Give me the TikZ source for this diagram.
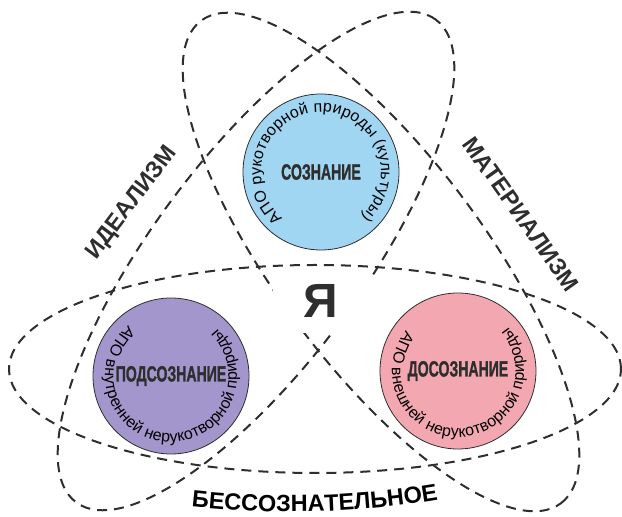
\documentclass[tikz,border=0pt]{standalone}
\usepackage{fontspec}
\setmainfont{Liberation Sans}
\newfontfamily\heavyfont{Liberation Sans}[BoldFeatures={FakeBold=1.6}]
\usepackage{graphicx}
\usetikzlibrary{decorations.text}

\definecolor{inkgray}{HTML}{2E2E2E}
\definecolor{skyfill}{RGB}{160,214,242}
\definecolor{lilacfill}{RGB}{162,150,204}
\definecolor{rosefill}{RGB}{243,168,177}

% heavy, narrow lettering for the three core labels
\newcommand{\squeezed}[1]{\scalebox{0.64}[1]{#1}}

\begin{document}
\begin{tikzpicture}[x=1pt,y=1pt,
  orbit/.style={draw=inkgray, line width=2pt, dash pattern=on 10pt off 7pt},
  sphere/.style={circle, draw=inkgray, line width=0.8pt, minimum size=156pt, inner sep=0pt,
                 font=\fontsize{22}{22}\selectfont\heavyfont\bfseries, text=inkgray},
  axislabel/.style={font=\fontsize{23.5}{23.5}\selectfont\bfseries, text=inkgray, inner sep=0pt},
  rimtext/.style={decorate, decoration={text along path, text align=fit to path}}
]
\fill[white] (0,0) rectangle (622,517);
\useasboundingbox (0,0) rectangle (622,517);

% centres of the three orbits
\coordinate (orbitH) at (315,148);
\coordinate (orbitR) at (381,255);
\coordinate (orbitL) at (256,256);

% dashed orbits
\draw[orbit] (orbitH) ellipse[x radius=306pt, y radius=104pt];
\draw[orbit, rotate around={-53.3:(orbitR)}] (orbitR) ellipse[x radius=301pt, y radius=104pt];
\draw[orbit, rotate around={53.3:(orbitL)}] (orbitL) ellipse[x radius=301pt, y radius=104pt];

% the three spheres
\node[sphere, fill=skyfill]   (conscious)    at (321,345) {\squeezed{СОЗНАНИЕ}};
\node[sphere, fill=lilacfill] (subconscious) at (171,141) {\squeezed{ПОДСОЗНАНИЕ}};
\node[sphere, fill=rosefill]  (preconscious) at (458,146) {\squeezed{ДОСОЗНАНИЕ}};

% lettering round the rims
\path[rimtext, decoration={text={|\fontsize{16}{16}\selectfont|АПО рукотворной природы (культуры)}}]
  (conscious.center) ++(230:60pt) arc[start angle=230, end angle=-48, radius=60pt];
\path[rimtext, decoration={text={|\fontsize{16}{16}\selectfont|АПО внутренней нерукотворной природы}}]
  (subconscious.center) ++(130:66pt) arc[start angle=130, end angle=406, radius=66pt];
\path[rimtext, decoration={text={|\fontsize{16}{16}\selectfont|АПО внешней нерукотворной природы}}]
  (preconscious.center) ++(142:66pt) arc[start angle=142, end angle=401, radius=66pt];

% the self in the middle, on a white patch
\node[fill=white, minimum width=97pt, minimum height=55pt, inner sep=0pt,
      text height=40pt, text depth=15pt, text=inkgray,
      font=\fontsize{48}{48}\selectfont\bfseries] (self) at (321,211.5) {Я};

% axis labels
\node[axislabel, rotate=53]    (idealism)    at (132,314) {ИДЕАЛИЗМ};
\node[axislabel, rotate=-54.7] (materialism) at (521,303) {МАТЕРИАЛИЗМ};

% the bottom caption follows a shallow arc
\coordinate (sag) at (290,905);
\path[decorate, decoration={text along path, text align=center,
      text={|\fontsize{23.5}{23.5}\selectfont\bfseries|БЕССОЗНАТЕЛЬНОЕ}}]
  (sag) ++(257.6:900pt) arc[start angle=257.6, end angle=285.6, radius=900pt];
\end{tikzpicture}
\end{document}
